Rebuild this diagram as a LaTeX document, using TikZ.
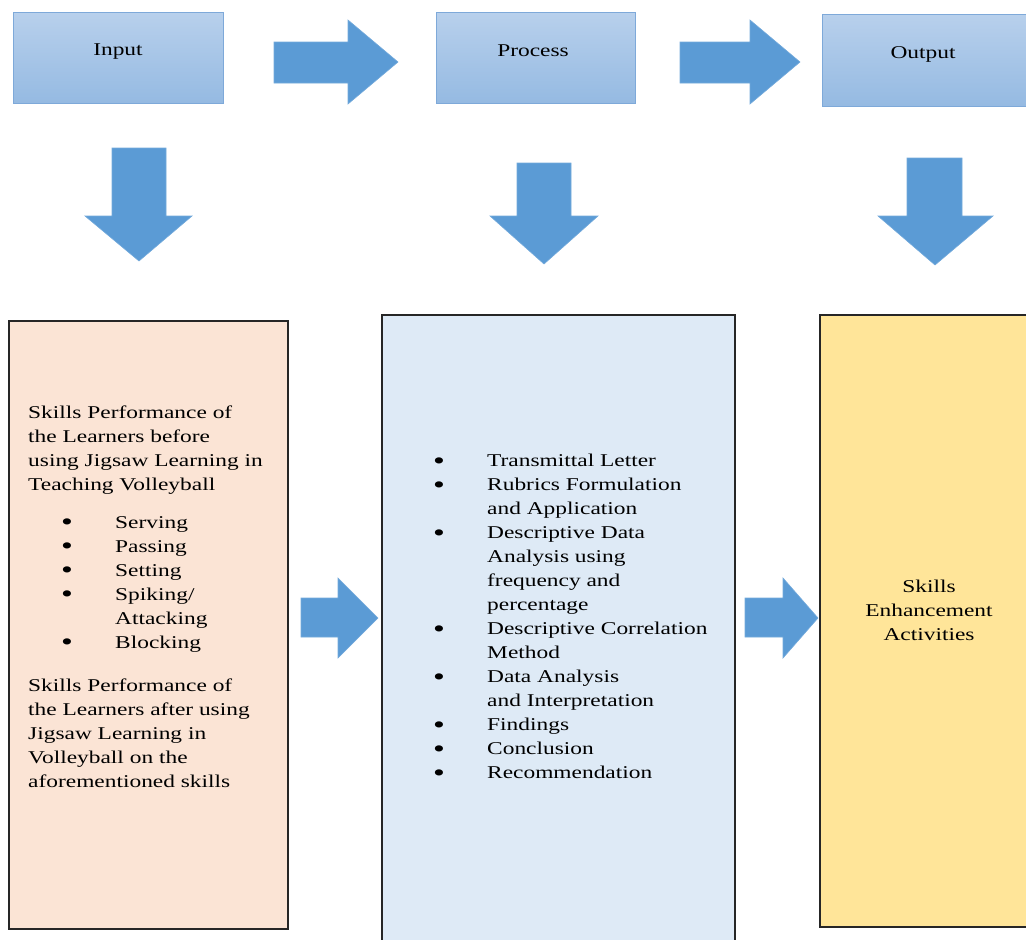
\documentclass[tikz,border=0pt]{standalone}
\usepackage{fontspec}
\setmainfont{Liberation Serif}[FakeStretch=1.3]
\definecolor{boxtop}{HTML}{B8D0EC}
\definecolor{boxbot}{HTML}{95BAE2}
\definecolor{boxline}{HTML}{7EA9D9}
\definecolor{arrowblue}{HTML}{5B9BD5}
\definecolor{inpeach}{HTML}{FBE4D5}
\definecolor{procblue}{HTML}{DEEAF6}
\definecolor{outyellow}{HTML}{FFE599}
\tikzset{
  stagebox/.style={draw=boxline, line width=0.8pt, top color=boxtop, bottom color=boxbot, inner sep=0pt},
  bigarrow/.style={fill=arrowblue, draw=arrowblue!85!white, line width=0.6pt},
  colbox/.style={draw=black!85, line width=1.2pt, inner sep=0pt},
  txt/.style={font=\fontsize{18}{24}\selectfont, inner sep=0pt, align=left, anchor=north west},
}
\newcommand{\bul}{\makebox[54pt][l]{\raisebox{-2.5pt}{\fontsize{26}{24}\selectfont\textbullet}}}
\newcommand{\gap}{\hspace*{54pt}}
\begin{document}
\begin{tikzpicture}[x=1pt,y=-1pt]
          \useasboundingbox (0,0) rectangle (1026,940);
          % top row
          \node[stagebox, minimum width=210pt, minimum height=91pt] (Inp) at (118,57.5) {};
          \node[font=\fontsize{18}{24}\selectfont] (InpLbl) at (118,52) {Input};
          \node[stagebox, minimum width=199pt, minimum height=91pt] (Proc) at (535.5,57.5) {};
          \node[font=\fontsize{18}{24}\selectfont] (ProcLbl) at (533,51) {Process};
          \node[stagebox, minimum width=213pt, minimum height=92pt] (Out) at (928.5,60) {};
          \node[font=\fontsize{18}{24}\selectfont] (OutLbl) at (923,54) {Output};
          \draw[bigarrow] (274,42) -- (348,42) -- (348,20) -- (398,62) -- (348,104) -- (348,83) -- (274,83) -- cycle;
          \draw[bigarrow] (680,42) -- (750,42) -- (750,20) -- (800,62) -- (750,104) -- (750,83) -- (680,83) -- cycle;
          % down arrows
          \draw[bigarrow] (112,148) -- (166,148) -- (166,216) -- (192,216) -- (139,261) -- (85,216) -- (112,216) -- cycle;
          \draw[bigarrow] (517,163) -- (571,163) -- (571,216) -- (598,216) -- (544,264) -- (490,216) -- (517,216) -- cycle;
          \draw[bigarrow] (907,158) -- (962,158) -- (962,216) -- (993,216) -- (935,265) -- (878,216) -- (907,216) -- cycle;
          % columns
          \node[colbox, fill=inpeach, minimum width=279pt, minimum height=608pt] (InBox) at (148.5,625) {};
          \node[colbox, fill=procblue, minimum width=353pt, minimum height=630pt] (ProcBox) at (558.5,630) {};
          \node[colbox, fill=outyellow, minimum width=215pt, minimum height=612pt] (OutBox) at (927.5,621) {};
          \draw[bigarrow] (301,598) -- (338,598) -- (338,578) -- (378,618) -- (338,658) -- (338,637) -- (301,637) -- cycle;
          \draw[bigarrow] (745,598) -- (783,598) -- (783,578) -- (818,618) -- (783,658) -- (783,637) -- (745,637) -- cycle;
          % input text
          \node[txt] (Before) at (28,406) {Skills Performance of\\the Learners before\\using Jigsaw Learning in\\Teaching Volleyball};
          \node[txt] (Skills) at (61,516) {\bul Serving\\\bul Passing\\\bul Setting\\\bul Spiking/\\\gap Attacking\\\bul Blocking};
          \node[txt] (After) at (28,679) {Skills Performance of\\the Learners after using\\Jigsaw Learning in\\Volleyball on the\\aforementioned skills};
          % process text
          \node[txt] (Steps) at (433,454) {\bul Transmittal Letter\\\bul Rubrics Formulation\\\gap and Application\\\bul Descriptive Data\\\gap Analysis using\\\gap frequency and\\\gap percentage\\\bul Descriptive Correlation\\\gap Method\\\bul Data Analysis\\\gap and Interpretation\\\bul Findings\\\bul Conclusion\\\bul Recommendation};
          % output text
          \node[font=\fontsize{18}{24}\selectfont, align=center] (Enh) at (929,610) {Skills\\Enhancement\\Activities};
        \end{tikzpicture}
\end{document}
